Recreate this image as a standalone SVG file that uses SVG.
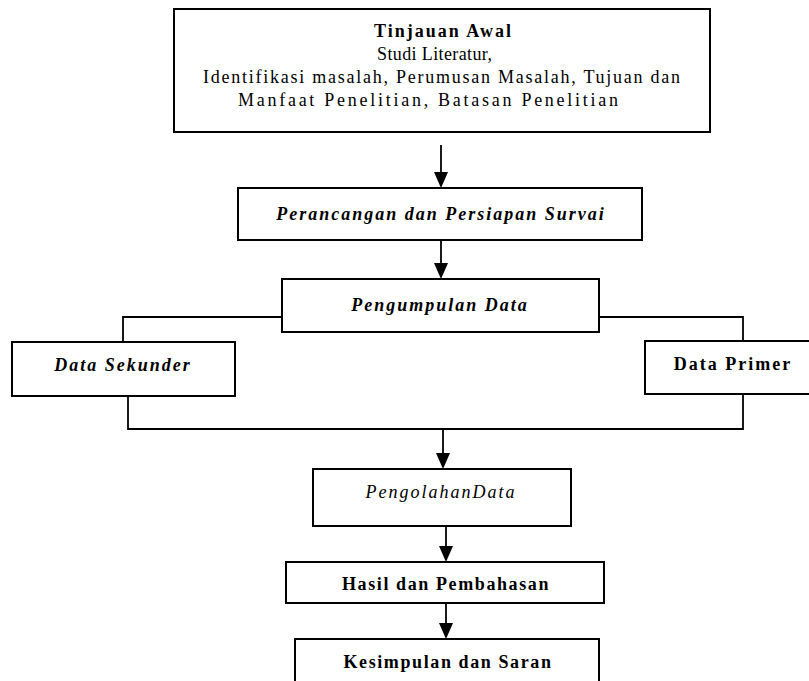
<svg xmlns="http://www.w3.org/2000/svg" width="809" height="681" viewBox="0 0 809 681">
<style>
.box{fill:#fff;stroke:#000;stroke-width:2}
.ln{fill:none;stroke:#000;stroke-width:1.8}
.ah{fill:#000}
text{font-family:"Liberation Serif","Times New Roman",serif;font-size:18px;letter-spacing:2px;fill:#000;text-anchor:middle}
.b{font-weight:bold}
.i{font-style:italic}
.s{text-anchor:start;letter-spacing:0}
.t{letter-spacing:1.6px}
</style>
<rect width="809" height="681" fill="#fff"/>
<g id="connectors">
<line class="ln" x1="441" y1="145" x2="441" y2="174"/>
<path class="ah" d="M434,172 L448,172 L441,188 Z"/>
<line class="ln" x1="441" y1="240" x2="441" y2="265"/>
<path class="ah" d="M434,263 L448,263 L441,279 Z"/>
<polyline class="ln" points="282,317 123,317 123,342"/>
<polyline class="ln" points="599,317 743,317 743,341"/>
<polyline class="ln" points="128,396 128,429 743,429 743,394"/>
<line class="ln" x1="443" y1="429" x2="443" y2="455"/>
<path class="ah" d="M436,453 L450,453 L443,469 Z"/>
<line class="ln" x1="446" y1="526" x2="446" y2="548"/>
<path class="ah" d="M439,546 L453,546 L446,562 Z"/>
<line class="ln" x1="446" y1="603" x2="446" y2="625"/>
<path class="ah" d="M439,623 L453,623 L446,639 Z"/>
</g>
<g id="tinjauan">
<rect class="box" x="174" y="9" width="536" height="123"/>
<text class="b s" x="374" y="37" textLength="137" lengthAdjust="spacing">Tinjauan Awal</text>
<text class="s" x="377" y="60" textLength="115" lengthAdjust="spacing">Studi Literatur,</text>
<text class="s" x="203" y="83" textLength="477" lengthAdjust="spacing">Identifikasi masalah, Perumusan Masalah, Tujuan dan</text>
<text class="s" x="238" y="106" textLength="380" lengthAdjust="spacing">Manfaat Penelitian, Batasan Penelitian</text>
</g>
<g id="perancangan">
<rect class="box" x="238" y="188" width="404" height="52"/>
<text class="b i" x="441" y="220">Perancangan dan Persiapan Survai</text>
</g>
<g id="pengumpulan">
<rect class="box" x="282" y="279" width="317" height="53"/>
<text class="b i" x="440" y="311">Pengumpulan Data</text>
</g>
<g id="sekunder">
<rect class="box" x="12" y="342" width="223" height="54"/>
<text class="b i" x="123" y="371">Data Sekunder</text>
</g>
<g id="primer">
<rect class="box" x="645" y="341" width="172" height="53"/>
<text class="b" x="733" y="370">Data Primer</text>
</g>
<g id="pengolahan">
<rect class="box" x="313" y="469" width="258" height="57"/>
<text class="i" x="441" y="498">PengolahanData</text>
</g>
<g id="hasil">
<rect class="box" x="286" y="562" width="318" height="41"/>
<text class="b t" x="446" y="590">Hasil dan Pembahasan</text>
</g>
<g id="kesimpulan">
<rect class="box" x="295" y="639" width="304" height="50"/>
<text class="b t" x="448" y="668">Kesimpulan dan Saran</text>
</g>
</svg>
